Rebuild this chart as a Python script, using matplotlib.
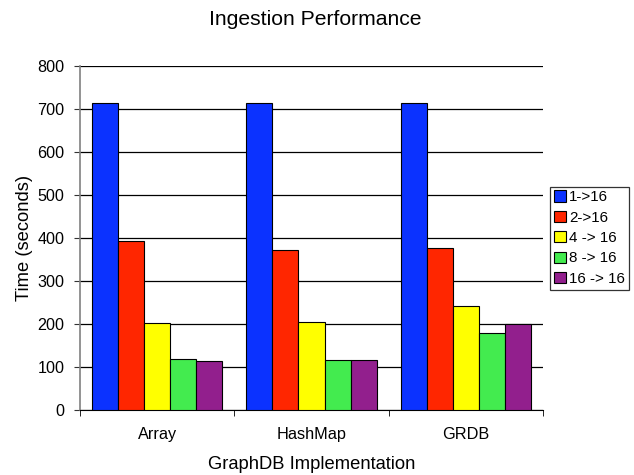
import matplotlib
matplotlib.use("Agg")
import matplotlib.pyplot as plt
import numpy as np

plt.rcParams["font.family"] = ["Liberation Sans", "DejaVu Sans"]

categories = ["Array", "HashMap", "GRDB"]
series_labels = ["1->16", "2->16", "4 -> 16", "8 -> 16", "16 -> 16"]
series_values = [
    [713, 715, 713],
    [394, 372, 376],
    [202, 204, 243],
    [118, 117, 180],
    [115, 116, 200],
]
colors = ["#0B32FF", "#FF2600", "#FFFF00", "#43EB4F", "#921F8D"]

W, H = 634, 475
fig = plt.figure(figsize=(W / 100, H / 100), dpi=100)
ax = fig.add_axes([80 / W, 1 - 410 / H, 463 / W, 344 / H])

x = np.arange(len(categories))
bar_w = 0.169
for i, (label, vals) in enumerate(zip(series_labels, series_values)):
    offset = (i - 2) * bar_w
    ax.bar(x + offset, vals, bar_w, color=colors[i], edgecolor="black",
           linewidth=0.8, label=label, zorder=3)

ax.set_xlim(-0.5, 2.5)
ax.set_ylim(0, 800)
ax.set_yticks(range(0, 801, 100))
ax.grid(axis="y", color="black", linewidth=0.9, zorder=0)

# category ticks sit on the group boundaries
ax.set_xticks(x)
ax.set_xticklabels(categories, fontsize=11.7)
ax.tick_params(axis="x", length=0, pad=12.5)
ax.set_xticks([-0.5, 0.5, 1.5, 2.5], minor=True)
ax.tick_params(axis="x", which="minor", length=4, color="black")
ax.tick_params(axis="y", length=4, labelsize=11.6, color="#333333", pad=7)

for side in ("top", "right"):
    ax.spines[side].set_visible(False)
ax.spines["left"].set_color("#808080")
ax.spines["left"].set_linewidth(1.2)
ax.spines["bottom"].set_color("black")

ax.set_ylabel("Time (seconds)", fontsize=13.2, labelpad=3)
ax.set_xlabel("GraphDB Implementation", fontsize=13.2, labelpad=10)
fig.text(0.4976, 1 - 25 / H, "Ingestion Performance", fontsize=15.2,
         ha="center", va="baseline")

leg = ax.legend(loc="upper left", bbox_to_anchor=(550 / W, 1 - 186.5 / H),
                bbox_transform=fig.transFigure, fontsize=10.9,
                frameon=True, fancybox=False, handlelength=0.8, handleheight=0.75,
                handletextpad=0.2, labelspacing=0.42, borderpad=0.25,
                borderaxespad=0)
leg.get_frame().set_edgecolor("black")
leg.get_frame().set_linewidth(0.9)

fig.savefig("out.png", dpi=100, facecolor="white")
